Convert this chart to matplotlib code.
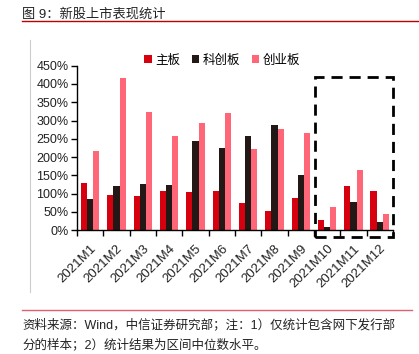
import matplotlib
matplotlib.use('Agg')
import matplotlib.pyplot as plt
import matplotlib.transforms as mtransforms
import numpy as np
from matplotlib.patches import Rectangle
from matplotlib.lines import Line2D

plt.rcParams['font.family'] = ['Liberation Sans', 'Noto Sans CJK SC', 'DejaVu Sans']

# 数据（%）
meses = ['2021M1', '2021M2', '2021M3', '2021M4', '2021M5', '2021M6',
         '2021M7', '2021M8', '2021M9', '2021M10', '2021M11', '2021M12']
zhuban = [128, 96, 94, 107, 103, 107, 75, 51, 88, 27, 120, 107]
kechuang = [85, 120, 126, 124, 244, 226, 258, 288, 152, 8, 77, 21]
chuangye = [216, 416, 322, 257, 293, 320, 222, 276, 265, 63, 164, 44]

series = [('主板', zhuban, '#D7000F'),
          ('科创板', kechuang, '#231815'),
          ('创业板', chuangye, '#FF6678')]

fig = plt.figure(figsize=(4.19, 3.54), dpi=100)
ax = fig.add_axes([0.1838, 0.350, 0.754, 0.4644])

x = np.arange(len(meses))
w = 0.235
for i, (nombre, vals, col) in enumerate(series):
    ax.bar(x + (i - 1) * w, vals, width=w, color=col, label=nombre)

ax.set_xlim(-0.5, len(meses) - 0.5)
ax.set_ylim(0, 450)
ax.set_yticks(np.arange(0, 451, 50))
ax.set_yticklabels([f'{v}%' for v in range(0, 451, 50)], fontsize=9, color='#222222')
ax.set_xticks(x)
ax.set_xticklabels(meses, rotation=45, ha='right', va='center', rotation_mode='anchor',
                   fontsize=9.5, color='#222222')
ax.tick_params(axis='x', which='major', length=0, pad=12)
desplaza = mtransforms.ScaledTranslation(4 / 100, 0, fig.dpi_scale_trans)
for lab in ax.get_xticklabels():
    lab.set_transform(lab.get_transform() + desplaza)
ax.set_xticks(np.arange(-0.5, len(meses), 1), minor=True)
ax.tick_params(axis='x', which='minor', length=4, width=1, direction='out')
ax.tick_params(axis='y', length=4, width=1, direction='out', pad=2)
for s in ['top', 'right']:
    ax.spines[s].set_visible(False)
for s in ['left', 'bottom']:
    ax.spines[s].set_linewidth(1)
    ax.spines[s].set_color('black')

# 虚线框
rect = Rectangle((8.54, -20), 11.49 - 8.54, 440, fill=False, edgecolor='black',
                 linewidth=2, linestyle=(0, (4, 2.5)), clip_on=False, zorder=5)
ax.add_patch(rect)

leg = ax.legend(loc='upper center', bbox_to_anchor=(0.46, 1.10), ncol=3, frameon=False,
                fontsize=9, handlelength=0.6, handleheight=0.6, handletextpad=0.3,
                columnspacing=0.9, borderaxespad=0)

# 标题与注释
fig.text(22 / 419, 1 - 14 / 354, '图 9：新股上市表现统计', fontsize=9.5, va='center', ha='left',
         color='#222222')
fig.add_artist(Line2D([22 / 419, 1.0], [1 - 21 / 354] * 2, color='#C00000', linewidth=1))
fig.add_artist(Line2D([30 / 419] * 2, [1 - 40 / 354, 1 - 292 / 354], color='#CCCCCC', linewidth=0.8))
fig.add_artist(Line2D([22 / 419, 412 / 419], [1 - 310 / 354] * 2, color='#E06070', linewidth=1))
fig.text(22 / 419, 1 - 325 / 354, '资料来源：Wind，中信证券研究部；注：1）仅统计包含网下发行部',
         fontsize=9, va='center', ha='left', color='#222222')
fig.text(22 / 419, 1 - 345 / 354, '分的样本；2）统计结果为区间中位数水平。',
         fontsize=9, va='center', ha='left', color='#222222')

fig.savefig('out.png', dpi=100)
